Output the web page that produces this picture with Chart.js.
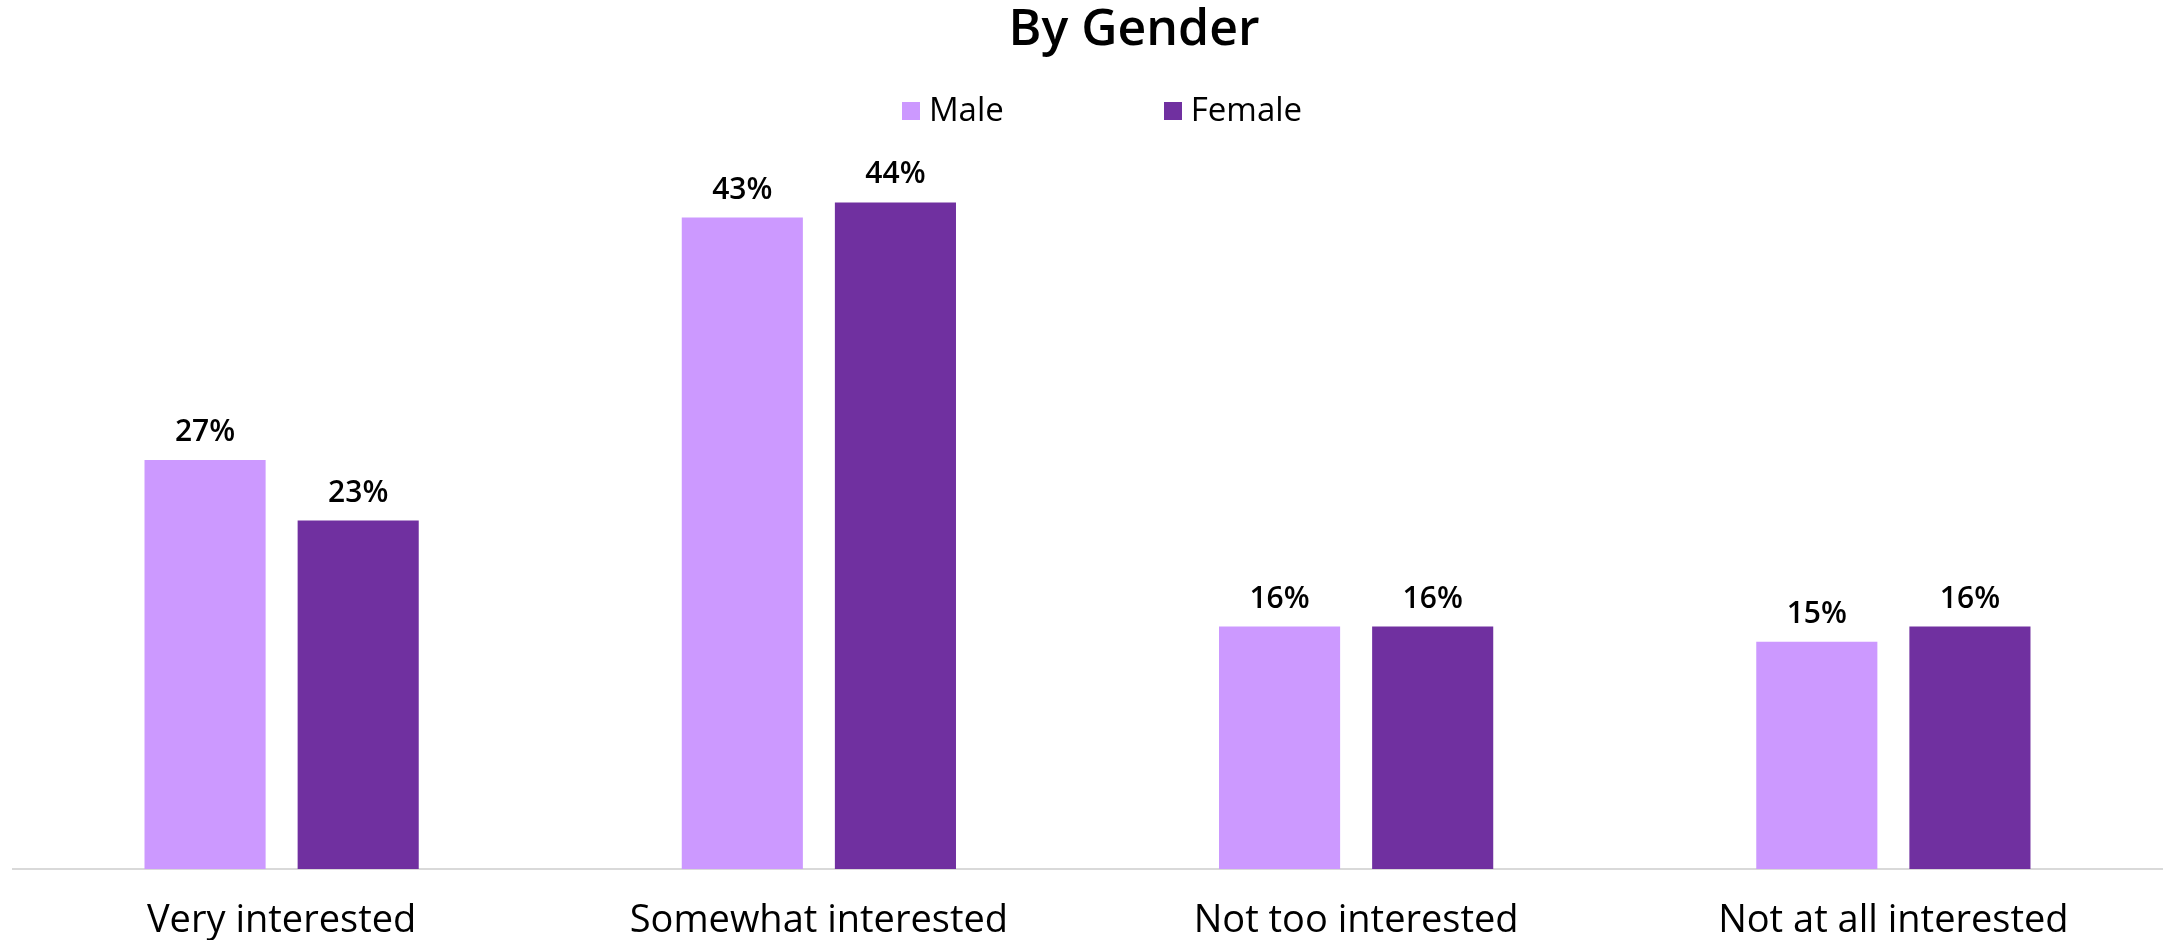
<!DOCTYPE html>
<html>
<head>
<meta charset="utf-8">
<script src="https://cdn.jsdelivr.net/npm/chart.js@4"></script>
<style>
  body { margin: 0; background: #fff; font-family: "Open Sans", "Noto Sans", sans-serif; }
  #wrap { position: relative; width: 2170px; height: 940px; }
  #title {
    position: absolute; top: 1px; left: 634px; width: 1000px;
    text-align: center; font-size: 50px; line-height: 50px; font-weight: 600; color: #000;
  }
  #legend {
    position: absolute; top: 92px; left: 34px; width: 2136px;
    display: flex; justify-content: center; gap: 160px;
    font-size: 33px; line-height: 33px; font-weight: 500; color: #000;
  }
  #legend span.item { display: flex; align-items: flex-end; }
  #legend i { display: inline-block; width: 18px; height: 18px; margin-right: 9px; margin-bottom: 5px; }
</style>
</head>
<body>
<div id="wrap">
  <canvas id="genderChart"></canvas>
  <div id="title">By Gender</div>
  <div id="legend"></div>
</div>
<script>
// ---- data ----
const categories = ['Very interested', 'Somewhat interested', 'Not too interested', 'Not at all interested'];
const seriesNames = ['Male', 'Female'];
const maleValues = [27, 43, 16, 15];
const femaleValues = [23, 44, 16, 16];
const seriesColors = ['#CC99FF', '#7030A0'];

// legend (html)
document.getElementById('legend').innerHTML = seriesNames.map((n, i) =>
  `<span class="item"><i style="background:${seriesColors[i]}"></i>${n}</span>`).join('');

// percentage labels above each bar
const barLabels = {
  id: 'barLabels',
  afterDatasetsDraw(chart) {
    const ctx = chart.ctx;
    ctx.save();
    ctx.font = '600 30px "Open Sans", "Noto Sans", sans-serif';
    ctx.fillStyle = '#000';
    ctx.textAlign = 'center';
    ctx.textBaseline = 'alphabetic';
    chart.data.datasets.forEach((ds, i) => {
      chart.getDatasetMeta(i).data.forEach((bar, j) => {
        ctx.fillText(ds.data[j] + '%', bar.x, bar.y - 19);
      });
    });
    ctx.restore();
  }
};

new Chart(document.getElementById('genderChart').getContext('2d'), {
  type: 'bar',
  data: {
    labels: categories,
    datasets: [
      { label: seriesNames[0], data: maleValues, backgroundColor: seriesColors[0] },
      { label: seriesNames[1], data: femaleValues, backgroundColor: seriesColors[1] },
    ],
  },
  options: {
    responsive: true, maintainAspectRatio: false, animation: false,
    layout: { padding: { top: 111.5, left: 13, right: 8, bottom: 0 } },
    datasets: { bar: { barPercentage: 0.791, categoryPercentage: 0.57 } },
    plugins: { legend: { display: false }, title: { display: false }, tooltip: { enabled: false } },
    scales: {
      x: {
        grid: { display: false },
        border: { display: true, color: '#D9D9D9', width: 2 },
        ticks: { color: '#000', padding: 21, font: { family: '"Open Sans", "Noto Sans", sans-serif', size: 38, weight: 500 } },
        afterFit: (scale) => { scale.height = 71; },
      },
      y: { display: false, min: 0, max: 50 },
    },
  },
  plugins: [barLabels],
});
</script>
</body>
</html>
